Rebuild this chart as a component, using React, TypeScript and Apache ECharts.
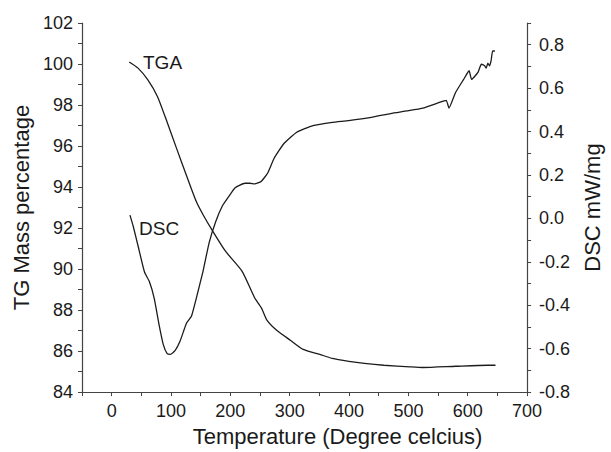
import React, { useEffect, useRef } from "react";
import * as echarts from "echarts";

const tgaTemp = [29.6, 44.4, 60.7, 77.1, 93.5, 109.8, 126.2, 142.6, 154, 170.5, 191.8, 219.6, 240.9, 252.3, 262.2, 278.5, 301.5, 322.7, 350.6, 371.9, 399.7, 425.9, 458.7, 502.9, 524, 579.7, 633.7, 646.8];
const tgaMass = [100.1, 99.8, 99.24, 98.42, 97.16, 95.85, 94.55, 93.29, 92.65, 91.84, 90.87, 89.9, 88.6, 88.11, 87.48, 87.0, 86.52, 86.08, 85.84, 85.64, 85.5, 85.4, 85.31, 85.23, 85.2, 85.26, 85.31, 85.31];

const dscTemp = [30.8, 36.2, 44.4, 55.3, 63.5, 71.7, 79.9, 86.9, 93.5, 98.9, 107.1, 115.3, 126.2, 134.4, 142.6, 153.6, 164.4, 175.4, 186.3, 197.2, 208.1, 224.5, 232.7, 240.9, 251.8, 262.7, 273.6, 290, 311.8, 339.1, 371.9, 399.2, 437.4, 470.1, 497.5, 524.6, 546.6, 560.2, 563.9, 568.4, 579.3, 593, 602.3, 606.5, 617.5, 622.9, 628.5, 631.1, 633.9, 636.6, 639.3, 642, 645.8];
const dscValue = [0.015, -0.035, -0.126, -0.247, -0.291, -0.368, -0.49, -0.58, -0.623, -0.626, -0.608, -0.565, -0.482, -0.451, -0.368, -0.247, -0.11, -0.014, 0.056, 0.1, 0.141, 0.162, 0.162, 0.159, 0.17, 0.208, 0.276, 0.344, 0.397, 0.427, 0.442, 0.45, 0.465, 0.483, 0.495, 0.508, 0.529, 0.541, 0.544, 0.508, 0.579, 0.64, 0.68, 0.64, 0.674, 0.71, 0.703, 0.692, 0.715, 0.703, 0.726, 0.771, 0.771];

const xTitle = "Temperature (Degree celcius)";
const leftTitle = "TG Mass percentage";
const rightTitle = "DSC mW/mg";

const FONT = "'Liberation Sans', Arial, sans-serif";
const TEXT = "#1a1a1a";
const AXIS = "#444";
const LINE = "#1c1c1c";

export default function App() {
  const ref = useRef<HTMLDivElement>(null);
  useEffect(() => {
    if (!ref.current) return;
    const chart = echarts.init(ref.current, undefined, { renderer: "svg" });
    chart.setOption({
      animation: false,
      backgroundColor: "#fff",
      grid: { left: 82, right: 71, top: 23, bottom: 57, containLabel: false },
      xAxis: {
        type: "value",
        min: -50,
        max: 700,
        interval: 50,
        name: xTitle,
        nameLocation: "middle",
        nameGap: 32,
        nameTextStyle: { fontFamily: FONT, fontSize: 22, color: TEXT, padding: [0, 0, 0, 66] },
        splitLine: { show: false },
        axisLine: { show: true, onZero: false, lineStyle: { color: AXIS, width: 1.2 } },
        axisTick: { show: true, length: 4, lineStyle: { color: AXIS } },
        axisLabel: {
          margin: 10,
          fontFamily: FONT,
          fontSize: 18,
          color: TEXT,
          formatter: (v: number) => (Math.round(v) % 100 === 0 ? String(Math.round(v)) : ""),
        },
      },
      yAxis: [
        {
          type: "value",
          position: "left",
          min: 84,
          max: 102,
          interval: 2,
          name: leftTitle,
          nameLocation: "middle",
          nameRotate: 90,
          nameGap: 47,
          nameTextStyle: { fontFamily: FONT, fontSize: 22, color: TEXT },
          splitLine: { show: false },
          axisLine: { show: true, onZero: false, lineStyle: { color: AXIS, width: 1.2 } },
          axisTick: { show: true, length: 4, lineStyle: { color: AXIS } },
          minorTick: { show: true, splitNumber: 2, length: 4, lineStyle: { color: AXIS } },
          axisLabel: { margin: 9, fontFamily: FONT, fontSize: 18, color: TEXT },
        },
        {
          type: "value",
          position: "right",
          min: -0.8,
          max: 0.9,
          interval: 0.1,
          name: rightTitle,
          nameLocation: "middle",
          nameRotate: 90,
          nameGap: 48,
          nameTextStyle: { fontFamily: FONT, fontSize: 22, color: TEXT },
          splitLine: { show: false },
          axisLine: { show: true, onZero: false, lineStyle: { color: AXIS, width: 1.2 } },
          axisTick: { show: true, length: 4, lineStyle: { color: AXIS } },
          axisLabel: {
            margin: 12,
            fontFamily: FONT,
            fontSize: 18,
            color: TEXT,
            formatter: (v: number) => {
              const k = Math.round(v * 10);
              return k % 2 === 0 ? (k / 10).toFixed(1) : "";
            },
          },
        },
      ],
      series: [
        {
          type: "line",
          name: "TGA",
          yAxisIndex: 0,
          data: tgaTemp.map((t, i) => [t, tgaMass[i]]),
          showSymbol: false,
          smooth: 0.2,
          lineStyle: { color: LINE, width: 1.3 },
        },
        {
          type: "line",
          name: "DSC",
          yAxisIndex: 1,
          data: dscTemp.map((t, i) => [t, dscValue[i]]),
          showSymbol: false,
          smooth: 0.15,
          lineStyle: { color: LINE, width: 1.3 },
        },
      ],
      graphic: [
        {
          type: "text",
          x: 143,
          y: 62,
          style: { text: "TGA", font: `19px ${FONT}`, fill: TEXT, textVerticalAlign: "middle" },
        },
        {
          type: "text",
          x: 139,
          y: 228,
          style: { text: "DSC", font: `19px ${FONT}`, fill: TEXT, textVerticalAlign: "middle" },
        },
      ],
    });
    return () => chart.dispose();
  }, []);
  return <div ref={ref} style={{ width: 611, height: 452, position: "absolute", left: 0, top: 0 }} />;
}
